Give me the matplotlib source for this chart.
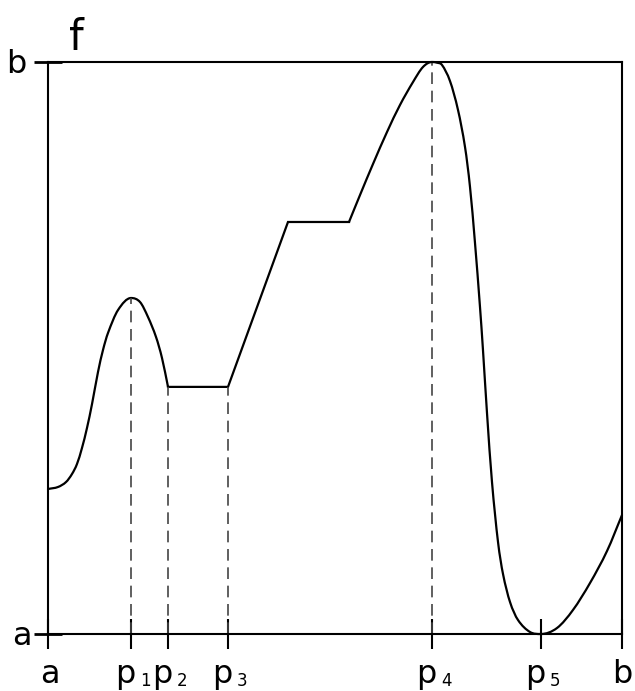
import matplotlib
matplotlib.use("Agg")
import numpy as np
import matplotlib.pyplot as plt
from matplotlib.path import Path
from matplotlib.patches import PathPatch
from matplotlib.transforms import offset_copy, blended_transform_factory

# ---- data (x: a=0 .. b=100, y: a=0 .. b=100) ----
# smooth part 1: a .. p1 .. p2
seg1_x = [0.0, 1.74, 3.14, 4.18, 5.05, 5.92, 6.79, 7.67, 8.71, 9.58, 10.45, 12.20,
          14.46, 16.03, 17.42, 18.82, 19.86, 20.91]
seg1_y = [25.35, 25.70, 26.57, 27.97, 29.72, 32.52, 36.01, 40.21, 45.80, 49.65, 52.62,
          56.64, 58.74, 58.04, 55.42, 51.92, 48.25, 43.20]
# straight part: p2 .. p3 .. ramp .. plateau
seg2_x = [20.91, 31.36, 41.81, 52.44]
seg2_y = [43.20, 43.20, 72.03, 72.03]
# smooth part 2: plateau end .. p4 .. p5 .. b
seg3_x = [52.44, 54.36, 56.62, 59.06, 61.32, 63.59, 65.33, 66.90, 67.77, 68.64, 70.03,
          71.43, 72.65, 73.52, 74.39, 75.26, 75.78, 76.48, 77.35, 78.40, 79.27, 80.49,
          81.88, 83.97, 85.89, 88.68, 91.46, 94.43, 97.39, 100.0]
seg3_y = [72.03, 76.75, 82.17, 87.76, 92.48, 96.50, 99.13, 100.0, 99.88, 99.48, 96.68,
          91.61, 85.14, 78.15, 68.36, 57.17, 49.65, 38.64, 26.57, 16.08, 10.49, 5.59,
          2.45, 0.35, 0.0, 1.05, 4.20, 8.92, 14.51, 20.80]

p_names = ["1", "2", "3", "4", "5"]
p_x = [14.46, 20.91, 31.36, 66.90, 85.89]
dash_top = [58.74, 43.20, 43.20, 100.0]       # dashed drop lines for p1..p4
x_end_labels = ["a", "b"]
x_end_pos = [0.0, 100.0]
y_labels = ["a", "b"]
y_pos = [0.0, 100.0]


def tangents(x, y):
    x = np.asarray(x, float); y = np.asarray(y, float)
    m = np.zeros_like(y)
    for k in range(1, len(x) - 1):
        d0 = y[k] - y[k - 1]; d1 = y[k + 1] - y[k]
        if d0 * d1 <= 0:
            m[k] = 0.0
        else:
            m[k] = (y[k + 1] - y[k - 1]) / (x[k + 1] - x[k - 1])
    m[0] = (y[1] - y[0]) / (x[1] - x[0])
    m[-1] = (y[-1] - y[-2]) / (x[-1] - x[-2])
    return m


def smooth_path(x, y):
    m = tangents(x, y)
    verts = [(x[0], y[0])]; codes = [Path.MOVETO]
    for k in range(len(x) - 1):
        dx = (x[k + 1] - x[k]) / 3.0
        verts += [(x[k] + dx, y[k] + m[k] * dx), (x[k + 1] - dx, y[k + 1] - m[k + 1] * dx),
                  (x[k + 1], y[k + 1])]
        codes += [Path.CURVE4] * 3
    return Path(verts, codes)


W, H = 635, 691
fig = plt.figure(figsize=(W / 100, H / 100), dpi=100)
ax = fig.add_axes([48 / W, (H - 634) / H, 574 / W, 572 / H])
ax.set_xlim(0, 100)
ax.set_ylim(0, 100)

for s in ax.spines.values():
    s.set_linewidth(1.5)
    s.set_color("black")

for px, py in [(seg1_x, seg1_y), (seg3_x, seg3_y)]:
    ax.add_patch(PathPatch(smooth_path(px, py), fill=False, edgecolor="black", lw=1.6,
                           clip_on=False, capstyle="round", joinstyle="round"))
ax.plot(seg2_x, seg2_y, color="black", lw=1.6, clip_on=False, solid_joinstyle="miter")

for x, yt in zip(p_x[:4], dash_top):
    ax.plot([x, x], [0, yt], color="#444444", lw=1.2, linestyle=(0, (7, 4)), clip_on=False)

ax.set_xticks(x_end_pos + p_x)
ax.set_xticklabels([])
ax.set_yticks(y_pos)
ax.set_yticklabels([])
ax.tick_params(axis="x", direction="inout", length=21, width=1.5, color="black")
ax.tick_params(axis="y", direction="inout", length=20, width=2.0, color="black")

font = "DejaVu Sans"
bt = blended_transform_factory(ax.transData, ax.transAxes)
FS = 23

for lab, x in zip(x_end_labels, x_end_pos):
    ax.text(x, -0.0857, lab, transform=offset_copy(bt, fig=fig, x=2 if lab == "a" else 0, units="dots"),
            ha="center", va="baseline", fontsize=FS, family=font)

for name, x in zip(p_names, p_x):
    ax.text(x, -0.0857, "p", transform=offset_copy(bt, fig=fig, x=-6, units="dots"),
            ha="center", va="baseline", fontsize=FS, family=font)
    ax.text(x, -0.0909, name, transform=offset_copy(bt, fig=fig, x=9, units="dots"),
            ha="left", va="baseline", fontsize=12, family=font)

ax.text(-0.0279, -0.0192, y_labels[0], transform=ax.transAxes, ha="right", va="baseline",
        fontsize=FS, family=font)
ax.text(-0.0383, 0.9808, y_labels[1], transform=ax.transAxes, ha="right", va="baseline",
        fontsize=FS, family=font)
ax.text(0.0488, 1.021, "f", transform=ax.transAxes, ha="center", va="baseline",
        fontsize=30, family=font)

fig.savefig("out.png", dpi=100)
